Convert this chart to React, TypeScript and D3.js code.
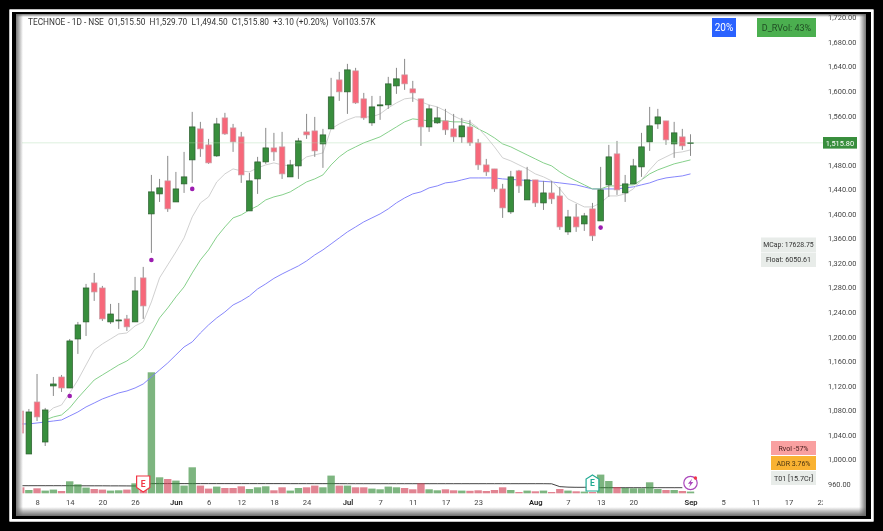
import * as React from "react";
import * as d3 from "d3";

const opens = [1079,1009,1093.7,1028.5,1119.8,1134.4,1116.5,1196.3,1224.1,1287.6,1279.4,1224.1,1225.7,1229,1224.1,1295.8,1400,1432.6,1453.8,1419.5,1448.9,1488,1538.5,1512.4,1494.5,1556.4,1540.1,1525.5,1404.9,1457,1484.7,1507.5,1509.2,1460.3,1478.2,1533.6,1535.2,1514,1538.5,1618.3,1598.8,1633,1587.4,1548.3,1576,1577.6,1608.5,1626.5,1603.7,1587.4,1541.7,1548.3,1551.5,1538.5,1525.5,1541.7,1515.7,1479.8,1473.3,1440.7,1403.3,1470.1,1422.8,1455.4,1417.9,1434.2,1429.3,1370.7,1395.1,1383.7,1408.2,1388.6,1447.3,1497.8,1434.2,1448.9,1476.6,1517.3,1546.6,1551.5,1514,1525.5,1515.5];
const highs = [1080,1082.3,1139.3,1084,1134.4,1137.7,1196.3,1224.1,1286,1303.9,1282.7,1253.4,1255,1235.5,1297.4,1313.7,1463.5,1457,1494.5,1468.4,1501,1566.2,1549.9,1522.2,1556.4,1564.6,1546.6,1533.6,1466.8,1492.9,1540.1,1532,1533.6,1488,1523.8,1562.9,1558,1538.5,1621.6,1631.4,1644.4,1637.9,1597.1,1592.2,1592.2,1623.2,1637.9,1652.5,1616.7,1587.4,1577.6,1574.3,1571.1,1562.9,1556.4,1553.2,1522.2,1489.6,1473.3,1448.9,1470.1,1471.7,1476.6,1455.4,1453.8,1453.8,1444,1406.5,1416.3,1401.6,1417.9,1476.6,1512.4,1518.9,1463.5,1489.6,1532,1574.3,1571.1,1551.5,1549.9,1538.5,1529.7];
const lows = [1043,1009,1062.7,1022,1103.5,1110,1116.5,1172,1201.2,1258.3,1225.7,1220.8,1212.7,1209.4,1224.1,1229,1336.5,1419.5,1403.3,1419.5,1434.2,1450.5,1492.9,1481.5,1492.9,1528.7,1501,1450.5,1404.9,1432.6,1481.5,1486.4,1457,1460.3,1457,1522.2,1492.9,1475,1538.5,1584.1,1562.9,1579.2,1553.2,1543.4,1553.2,1571.1,1595.5,1602,1582.5,1510.8,1533.6,1546.6,1528.7,1517.3,1515.7,1510.8,1471.7,1461.9,1435.9,1393.5,1400,1434.2,1422.8,1411.4,1406.5,1416.3,1374,1365.8,1370.7,1372.3,1356,1388.6,1427.7,1431,1419.5,1448.9,1460.3,1502.6,1538.5,1512.4,1491.3,1504.3,1494.5];
const closes = [1043,1077.4,1069.3,1080.7,1123,1116.5,1193.1,1219.2,1279.4,1272.9,1229,1237,1227.3,1216,1274.6,1250.1,1435.9,1442.4,1408.2,1440.7,1460.3,1541.7,1505.9,1483.1,1546.6,1530.3,1517.3,1463.5,1453.8,1484.7,1507.5,1501,1465.2,1479.8,1518.9,1528.7,1502.6,1528.7,1590.6,1598.8,1634.6,1580.8,1556.4,1574.3,1577.6,1611.8,1620,1611.8,1597.1,1541.7,1571.1,1556.4,1536.9,1525.5,1543.4,1515.7,1479.8,1468.4,1440.7,1409.8,1460.3,1445.6,1455.4,1417.9,1434.2,1424.4,1378.8,1395.1,1378.8,1396.8,1364.2,1439.1,1492.9,1439.1,1448.9,1478.2,1509.2,1543.4,1558,1520.6,1532,1510.8,1515.8];

// thousands of shares
const volumes = [360,198,300,162,222,138,720,540,342,258,222,162,180,222,600,210,7260,960,858,762,462,1560,462,282,402,318,318,420,258,360,420,180,360,162,318,360,462,360,1062,462,462,360,360,282,240,402,360,318,240,600,240,180,240,180,162,150,180,138,198,360,198,78,162,120,162,78,258,162,120,102,78,1122,738,378,318,300,300,660,258,198,198,138,103.57];
const volumeAvg = [456,456,456,456,456,456,456,450,450,450,450,446,446,444,440,440,582,582,582,582,582,582,582,582,582,582,582,582,582,582,582,582,582,580,580,580,580,580,580,580,576,576,576,576,576,576,576,576,576,576,576,576,576,576,576,576,576,576,576,576,576,576,576,576,576,570,400,370,360,360,360,336,336,336,336,336,336,336,336,336,336,336];

const ema10Start = 3;
const ema10 = [1072.5,1084,1088.8,1108.4,1129.5,1154,1178.4,1188.2,1196.3,1204.5,1206.1,1217.5,1224.1,1256.6,1295.8,1317,1338.1,1360.9,1395.1,1417.9,1427.7,1452.1,1465.2,1473.3,1470.1,1468.4,1475,1479.8,1483.1,1479.8,1478.2,1483.1,1492.9,1496.1,1499.4,1538.5,1546.6,1553.2,1558,1558,1558,1562.9,1572.7,1580.8,1587.4,1589,1582.5,1577.6,1574.3,1567.8,1559.7,1553.2,1549.9,1540.1,1525.5,1509.2,1491.3,1486.4,1479.8,1473.3,1465.2,1460.3,1453.8,1440.7,1424.4,1417.9,1411.4,1411.4,1417.9,1429.3,1429.3,1432.6,1440.7,1455.4,1471.7,1486.4,1492.9,1499.4,1501,1504.3];
const ema21Start = 3;
const ema21 = [1064.4,1069.3,1072.5,1084,1100.2,1114.9,1129.5,1137.7,1145.8,1154,1160.5,1170.3,1181.7,1206.1,1230.6,1246.8,1264.8,1281.1,1303.9,1325,1341.4,1362.5,1378.8,1393.5,1398.4,1406.5,1413,1422.8,1427.7,1431,1435.9,1444,1452.1,1457,1463.5,1479.8,1492.9,1502.6,1509.2,1515.7,1520.6,1525.5,1533.6,1541.7,1549.9,1554.8,1553.2,1551.5,1551.5,1551.5,1549.9,1549.9,1546.6,1538.5,1532,1523.8,1514,1509.2,1502.6,1496.1,1489.6,1483.1,1478.2,1468.4,1460.3,1453.8,1447.3,1440.7,1440.7,1445.6,1445.6,1447.3,1447.3,1455.4,1465.2,1471.7,1476.6,1481.5,1484.7,1488];
const ema50 = [1057.9,1057.9,1059.5,1061.1,1062.7,1064.4,1070.9,1077.4,1085.6,1092,1098.6,1103.5,1108.4,1111.6,1116.5,1123,1134.4,1145.8,1157.2,1170.3,1183.3,1191.5,1206.1,1219.2,1230.6,1240.3,1251.7,1258.3,1266.4,1277.8,1286,1295,1302.2,1308.8,1315.3,1323.4,1333.2,1341.4,1351.1,1360.9,1370.7,1378.8,1387,1393.5,1400,1408.2,1418,1426,1432.6,1435.9,1442.4,1445.6,1450.5,1452.1,1455.4,1458.6,1458.6,1458.6,1458.6,1457,1456.2,1455.4,1454.6,1453.8,1453,1452.1,1450.5,1448.9,1447.3,1444,1440.7,1440.7,1440.7,1440.7,1442.4,1444,1447.3,1450.5,1455.4,1458.6,1460.3,1461.9,1465.2];

const dotIndex = [6, 16, 21, 71];
const dotPrice = [1103.5, 1325, 1440.7, 1377.7];

const tickIndex = [2,6,10,14,19,23,27,31,35,40,44,48,52,56,63,67,71,75,82,86,90,94,98];
const tickLabel = ["8","14","20","26","Jun","6","12","18","24","Jul","7","11","17","23","Aug","7","13","20","Sep","5","11","17","23"];
const monthLabels = ["Jun", "Jul", "Aug", "Sep"];

const earningsIndex = [15, 70];
const lastClose = 1515.8;
const headerText = "TECHNOE - 1D - NSE  O1,515.50  H1,529.70  L1,494.50  C1,515.80  +3.10 (+0.20%)  Vol103.57K";

const badges = [
  { text: "20%", x: 712, y: 18, w: 24, h: 19, fill: "#2962ff", color: "#fff", size: 10 },
  { text: "D_RVol: 43%", x: 757, y: 18, w: 59, h: 19, fill: "#4caf50", color: "#1f4d22", size: 9 },
  { text: "MCap: 17628.75", x: 761, y: 237.5, w: 55, h: 14.5, fill: "#e8ece9", color: "#333", size: 6.9 },
  { text: "Float: 6050.61", x: 761, y: 252.5, w: 55, h: 14.5, fill: "#e8ece9", color: "#333", size: 7.1 },
  { text: "Rvol -57%", x: 771, y: 441, w: 45, h: 14, fill: "#f9a0a0", color: "#4a2020", size: 7 },
  { text: "ADR 3.76%", x: 771, y: 456, w: 45, h: 14, fill: "#f9b233", color: "#4a3410", size: 7 },
  { text: "T01 [15.7Cr]", x: 771, y: 471, w: 45, h: 14, fill: "#e8ece9", color: "#333", size: 7.2 },
];

const width = 883;
const height = 531;
const plotLeft = 22.5;
const plotRight = 823;
const volBase = 493.3;
const font = "Roboto, sans-serif";

export default function App() {
  const svgRef = React.useRef<SVGSVGElement>(null);

  React.useEffect(() => {
    const svgElement = svgRef.current;
    if (!svgElement) return;
    const svg = d3.select(svgElement);
    svg.selectAll("*").remove();

    const x = d3.scaleLinear().domain([0, 82]).range([20.7, 690.5]);
    const y = d3.scaleLinear().domain([1000, 1680]).range([459.5, 42]);
    const vol = d3.scaleLinear().domain([0, 7260]).range([volBase, 372.3]);

    const defs = svg.append("defs");
    defs.append("clipPath").attr("id", "plot").append("rect")
      .attr("x", plotLeft).attr("y", 14).attr("width", plotRight - plotLeft).attr("height", 500);
    defs.append("filter").attr("id", "soft")
      .append("feGaussianBlur").attr("stdDeviation", 0.35);

    // edge shadows
    const fade = (id: string, x2: number, y2: number, from: number, to: number) => {
      const g = defs.append("linearGradient").attr("id", id)
        .attr("x1", 0).attr("y1", 0).attr("x2", x2).attr("y2", y2);
      g.append("stop").attr("offset", 0).attr("stop-color", "#666").attr("stop-opacity", from);
      g.append("stop").attr("offset", 1).attr("stop-color", "#666").attr("stop-opacity", to);
    };
    fade("fadeLeft", 1, 0, 0.9, 0);
    fade("fadeTop", 0, 1, 0.9, 0);
    fade("fadeRight", 1, 0, 0, 0.9);
    fade("fadeBottom", 0, 1, 0, 0.95);

    svg.append("rect").attr("width", width).attr("height", height).attr("fill", "#fff");

    const root = svg.append("g").attr("filter", "url(#soft)");
    const plot = root.append("g").attr("clip-path", "url(#plot)");

    // volume pane
    const avgLine = d3.line<number>().x((_d, i) => x(i)).y(d => vol(d));
    plot.append("path").attr("d", avgLine(volumeAvg)).attr("fill", "none")
      .attr("stroke", "#222").attr("stroke-opacity", 0.85).attr("stroke-width", 1);
    plot.append("g").selectAll("rect").data(volumes).enter().append("rect")
      .attr("x", (_d, i) => x(i) - 3.7)
      .attr("y", d => vol(d))
      .attr("width", 7.4)
      .attr("height", d => volBase - vol(d))
      .attr("fill", (_d, i) => closes[i] >= opens[i] ? "#388e3c" : "#d2465a")
      .attr("fill-opacity", 0.66);

    // moving averages
    const maLine = (start: number) => d3.line<number>().x((_d, i) => x(i + start)).y(d => y(d));
    const mas: [number[], number, string][] = [
      [ema50, 0, "#8080fb"],
      [ema21, ema21Start, "#7fce85"],
      [ema10, ema10Start, "#cdcdcd"],
    ];
    mas.forEach(([values, start, color]) => {
      plot.append("path").attr("d", maLine(start)(values)).attr("fill", "none")
        .attr("stroke", color).attr("stroke-width", 0.95);
    });

    // last price line
    root.append("line").attr("x1", plotLeft).attr("x2", plotRight)
      .attr("y1", y(lastClose)).attr("y2", y(lastClose))
      .attr("stroke", "#a9d8ac").attr("stroke-width", 0.8).attr("stroke-dasharray", "1 1");

    // candles
    const candles = plot.append("g").selectAll("g").data(opens).enter().append("g");
    candles.append("line")
      .attr("x1", (_d, i) => x(i)).attr("x2", (_d, i) => x(i))
      .attr("y1", (_d, i) => y(highs[i])).attr("y2", (_d, i) => y(lows[i]))
      .attr("stroke", "#8a8a8a").attr("stroke-width", 1);
    candles.append("rect")
      .attr("x", (_d, i) => x(i) - 2.8)
      .attr("y", (_d, i) => y(Math.max(opens[i], closes[i])))
      .attr("width", 5.6)
      .attr("height", (_d, i) => Math.max(0.6, Math.abs(y(opens[i]) - y(closes[i]))))
      .attr("fill", (_d, i) => closes[i] >= opens[i] ? "#388e3c" : "#f7677a")
      .attr("stroke", (_d, i) => closes[i] >= opens[i] ? "#2b5e2f" : "#c9a0a6")
      .attr("stroke-width", 0.7);

    root.append("g").selectAll("circle").data(dotIndex).enter().append("circle")
      .attr("cx", d => x(d))
      .attr("cy", (_d, i) => y(dotPrice[i]))
      .attr("r", 2.3)
      .attr("fill", "#9c1fb0");

    // earnings flags
    const flagPaths = ["M-6.6,-8 H6.6 V3.5 L0,8 L-6.6,3.5 Z", "M0,-8 L6.4,-4 V8 H-6.4 V-4 Z"];
    const flagColors = ["#f23645", "#22ab94"];
    const flags = plot.append("g").selectAll("g").data(earningsIndex).enter().append("g")
      .attr("transform", (d, i) => `translate(${x(d)},${i === 0 ? 484 : 483})`);
    flags.append("path").attr("d", (_d, i) => flagPaths[i])
      .attr("fill", "#fff").attr("stroke", (_d, i) => flagColors[i]).attr("stroke-width", 1.2);
    flags.append("text").text("E").attr("text-anchor", "middle").attr("y", 3)
      .attr("font-family", font).attr("font-size", 8.5).attr("font-weight", 700)
      .attr("fill", (_d, i) => flagColors[i]);

    // lightning icon on the last bar
    const icon = plot.append("g").attr("transform", `translate(${x(82)},483)`);
    icon.append("circle").attr("r", 6.7).attr("fill", "#fff").attr("stroke", "#ab47bc").attr("stroke-width", 1.2);
    icon.append("path").attr("d", "M1.6,-4.2 L-2.6,0.8 H-0.2 L-1.4,4.2 L2.8,-1 H0.4 Z").attr("fill", "#ab47bc");
    icon.append("circle").attr("cx", 4.9).attr("cy", -5).attr("r", 1.7).attr("fill", "#f23645");

    // axes
    const xAxis = d3.axisBottom(x)
      .tickValues(tickIndex)
      .tickSize(0)
      .tickPadding(0)
      .tickFormat((_d, i) => tickLabel[i]);
    const xG = plot.append("g").attr("transform", "translate(0,500)").call(xAxis);
    xG.select(".domain").remove();
    xG.selectAll("text")
      .attr("font-family", font).attr("font-size", 7.6)
      .attr("font-weight", (_d, i) => monthLabels.includes(tickLabel[i]) ? 600 : 400)
      .attr("fill", (_d, i) => monthLabels.includes(tickLabel[i]) ? "#222" : "#444");

    const yAxis = d3.axisRight(y)
      .tickValues(d3.range(960, 1721, 40))
      .tickSize(0)
      .tickPadding(0)
      .tickFormat(d => d3.format(",.2f")(d as number));
    const yG = root.append("g").attr("transform", "translate(828,0)").call(yAxis);
    yG.select(".domain").remove();
    yG.selectAll("text").attr("font-family", font).attr("font-size", 7.4).attr("fill", "#444");

    // price tag
    root.append("rect").attr("x", 823).attr("y", y(lastClose) - 5.8).attr("width", 34).attr("height", 11.6).attr("fill", "#388e3c");
    root.append("text").text(d3.format(",.2f")(lastClose))
      .attr("x", 840).attr("y", y(lastClose) + 2.7).attr("text-anchor", "middle")
      .attr("font-family", font).attr("font-size", 7.4).attr("fill", "#fff");

    // header
    root.append("text").text(headerText)
      .attr("x", 28).attr("y", 25)
      .style("white-space", "pre")
      .attr("font-family", font).attr("font-size", 8.3).attr("fill", "#333");

    // info boxes
    const boxes = root.append("g").selectAll("g").data(badges).enter().append("g");
    boxes.append("rect")
      .attr("x", d => d.x).attr("y", d => d.y)
      .attr("width", d => d.w).attr("height", d => d.h)
      .attr("fill", d => d.fill);
    boxes.append("text").text(d => d.text)
      .attr("x", d => d.x + d.w / 2).attr("y", d => d.y + d.h / 2 + d.size * 0.36)
      .attr("text-anchor", "middle")
      .attr("font-family", font).attr("font-size", d => d.size).attr("fill", d => d.color);

    // inner shadow and the black frame around the screenshot
    const left = 16, top = 14, right = 866, bottom = 516;
    svg.append("rect").attr("x", left).attr("y", top).attr("width", 7).attr("height", bottom - top).attr("fill", "url(#fadeLeft)");
    svg.append("rect").attr("x", left).attr("y", top).attr("width", right - left).attr("height", 3).attr("fill", "url(#fadeTop)");
    svg.append("rect").attr("x", right - 7).attr("y", top).attr("width", 7).attr("height", bottom - top).attr("fill", "url(#fadeRight)");
    svg.append("rect").attr("x", left).attr("y", bottom - 9).attr("width", right - left).attr("height", 9).attr("fill", "url(#fadeBottom)");

    const ring = (x0: number, y0: number, x1: number, y1: number, x2: number, y2: number, x3: number, y3: number) =>
      `M${x0},${y0}H${x1}V${y1}H${x0}Z M${x2},${y2}H${x3}V${y3}H${x2}Z`;
    svg.append("path").attr("fill-rule", "evenodd").attr("fill", "#000")
      .attr("d", ring(0, 0, width, height, 9.5, 9.5, 873.5, 521.5));
    svg.append("path").attr("fill-rule", "evenodd").attr("fill", "#fff")
      .attr("d", ring(9.5, 9.5, 873.5, 521.5, 12, 12, 871, 519));
    svg.append("path").attr("fill-rule", "evenodd").attr("fill", "#000")
      .attr("d", ring(12, 12, 871, 519, left, top, right, bottom));
  }, []);

  return (
    <svg
      ref={svgRef}
      width={width}
      height={height}
      style={{ position: "fixed", left: 0, top: 0, display: "block" }}
    />
  );
}
